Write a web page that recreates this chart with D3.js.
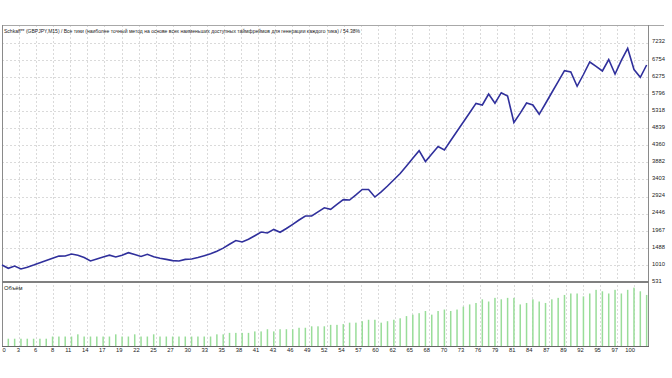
<!DOCTYPE html>
<html><head><meta charset="utf-8">
<script src="https://cdn.jsdelivr.net/npm/d3@7"></script>
<style>html,body{margin:0;padding:0;background:#fff;overflow:hidden}</style>
</head><body>
<script>
const titleText = "Schkaff** (GBPJPY,M15) / Все тики (наиболее точный метод на основе всех наименьших доступных таймфреймов для генерации каждого тика) / 54.38%";
const volumeLabel = "Объём";
// balance after each trade (index 0 = start)
const balance = [1007,914,979,895,945,1004,1068,1130,1194,1256,
 1259,1315,1281,1217,1119,1175,1228,1281,1231,1281,
 1351,1298,1245,1306,1236,1197,1164,1130,1119,1164,
 1175,1214,1267,1320,1393,1480,1586,1693,1651,1726,
 1827,1931,1903,2003,1922,2028,2146,2266,2378,2378,
 2493,2608,2566,2703,2837,2826,2969,3120,3120,2910,
 3053,3218,3392,3568,3781,3993,4206,3904,4114,4324,
 4226,4492,4752,5009,5270,5530,5485,5793,5536,5830,
 5737,4995,5259,5541,5485,5225,5527,5835,6140,6448,
 6409,6009,6339,6689,6566,6437,6759,6353,6734,7072,
 6479,6261,6605];
// lot size of trades 1..102
const volume = [0.10,0.10,0.10,0.10,0.10,0.10,0.10,0.13,0.13,0.13,
 0.13,0.16,0.13,0.13,0.13,0.13,0.13,0.16,0.13,0.13,
 0.16,0.13,0.13,0.16,0.13,0.13,0.13,0.13,0.13,0.13,
 0.13,0.13,0.13,0.16,0.16,0.18,0.18,0.18,0.18,0.20,
 0.20,0.23,0.20,0.23,0.23,0.23,0.25,0.25,0.27,0.27,
 0.27,0.29,0.29,0.30,0.32,0.32,0.34,0.36,0.36,0.32,
 0.34,0.36,0.38,0.41,0.43,0.45,0.48,0.43,0.48,0.50,
 0.48,0.50,0.54,0.57,0.59,0.64,0.61,0.66,0.64,0.66,
 0.66,0.57,0.59,0.64,0.61,0.59,0.64,0.66,0.70,0.72,
 0.72,0.68,0.72,0.77,0.75,0.72,0.77,0.72,0.77,0.80,
 0.75,0.70];
const yTickValues = [531,1010,1488,1967,2446,2924,3403,3882,4360,4839,5318,5796,6275,6754,7232];
const xTickLabels = ["0","3","6","8","11","14","17","19","22","25","27","30","33","35","38","41","43","46","49","52","54","57","60","62","65","68","70","73","76","79","81","84","87","89","92","95","97","100"];

(function () {
const W = 672, H = 378;
const pLeft = 2, pRight = 648, pTop = 25, mainBottom = 282, volBottom = 346;
const FONT = "Liberation Sans, Arial, sans-serif";

const svg = d3.select("body").append("svg").attr("width", W).attr("height", H)
  .style("font-family", FONT);

const x = d3.scaleLinear().domain([0, 102]).range([pLeft, pLeft + 102 * 6.32]);
const y = d3.scaleLinear().domain([531, 7232]).range([mainBottom, 42.6]);
const vy = d3.scaleLinear().domain([0, 0.85]).range([volBottom, 284]);

const gridIdx = xTickLabels.map((d, i) => i * 100 / 37);
const gridColor = "#dadada";

// vertical grid both panels
svg.append("g").selectAll("line").data(gridIdx.slice(1)).join("line")
  .attr("x1", d => Math.round(x(d)) + 0.5).attr("x2", d => Math.round(x(d)) + 0.5)
  .attr("y1", pTop).attr("y2", volBottom)
  .attr("stroke", gridColor).attr("stroke-width", 1).attr("stroke-dasharray", "2,2");

// horizontal grid main panel
const hStep = y(531) - y(1010);
const hGrid = yTickValues.slice(1).map(v => y(v)).concat([y(7232) - hStep]);
svg.append("g").selectAll("line").data(hGrid.filter(v => v > pTop + 1)).join("line")
  .attr("x1", pLeft).attr("x2", pRight).attr("y1", d => Math.round(d) + 0.5).attr("y2", d => Math.round(d) + 0.5)
  .attr("stroke", gridColor).attr("stroke-width", 1).attr("stroke-dasharray", "2,2");

// frame
const frame = "#8a8a8a";
svg.append("line").attr("x1", pLeft).attr("x2", W - 8).attr("y1", pTop + 0.5).attr("y2", pTop + 0.5).attr("stroke", "#a8a8a8");
svg.append("line").attr("x1", pLeft + 0.5).attr("x2", pLeft + 0.5).attr("y1", pTop).attr("y2", volBottom).attr("stroke", frame);
svg.append("line").attr("x1", pRight + 0.5).attr("x2", pRight + 0.5).attr("y1", pTop).attr("y2", volBottom).attr("stroke", frame);
svg.append("rect").attr("x", pLeft).attr("y", mainBottom - 1).attr("width", pRight - pLeft + 1).attr("height", 2).attr("fill", "#808080");
svg.append("line").attr("x1", pLeft).attr("x2", pRight + 1).attr("y1", volBottom + 0.5).attr("y2", volBottom + 0.5).attr("stroke", "#666");

// volume bars
svg.append("g").selectAll("rect").data(volume).join("rect")
  .attr("x", (d, i) => x(i + 1) - 0.75).attr("width", 1.5)
  .attr("y", d => vy(d)).attr("height", d => volBottom - vy(d))
  .attr("fill", "#99dd99");

// balance line
svg.append("path").datum(balance)
  .attr("d", d3.line().x((d, i) => x(i)).y(d => y(d)))
  .attr("fill", "none").attr("stroke", "#30309c").attr("stroke-width", 1.6)
  .attr("stroke-linejoin", "miter");

// right axis
const yAxis = d3.axisRight(y).tickValues(yTickValues).tickSize(0).tickPadding(4).tickFormat(d3.format("d"));
const gy = svg.append("g").attr("transform", `translate(${pRight},-1.5)`).call(yAxis);
gy.select(".domain").remove();
gy.selectAll("text").attr("font-size", 5.8).attr("fill", "#222").attr("font-family", FONT);

// bottom axis
const xAxis = d3.axisBottom(x).tickValues(gridIdx).tickSize(0).tickPadding(2)
  .tickFormat((d, i) => xTickLabels[i]);
const gx = svg.append("g").attr("transform", `translate(0,${volBottom})`).call(xAxis);
gx.select(".domain").remove();
gx.selectAll("text").attr("font-size", 5.8).attr("fill", "#222").attr("font-family", FONT)
  .attr("text-anchor", (d, i) => i === 0 ? "start" : "end")
  .attr("dx", (d, i) => i === 0 ? 0 : 0.5);

// title and volume label
svg.append("text").attr("x", 4).attr("y", 32.5).text(titleText)
  .attr("font-size", 5.8).attr("fill", "#222")
  .attr("textLength", 356).attr("lengthAdjust", "spacingAndGlyphs");
svg.append("text").attr("x", 4).attr("y", 290).text(volumeLabel)
  .attr("font-size", 5.8).attr("fill", "#222");
})();
</script>
</body></html>
